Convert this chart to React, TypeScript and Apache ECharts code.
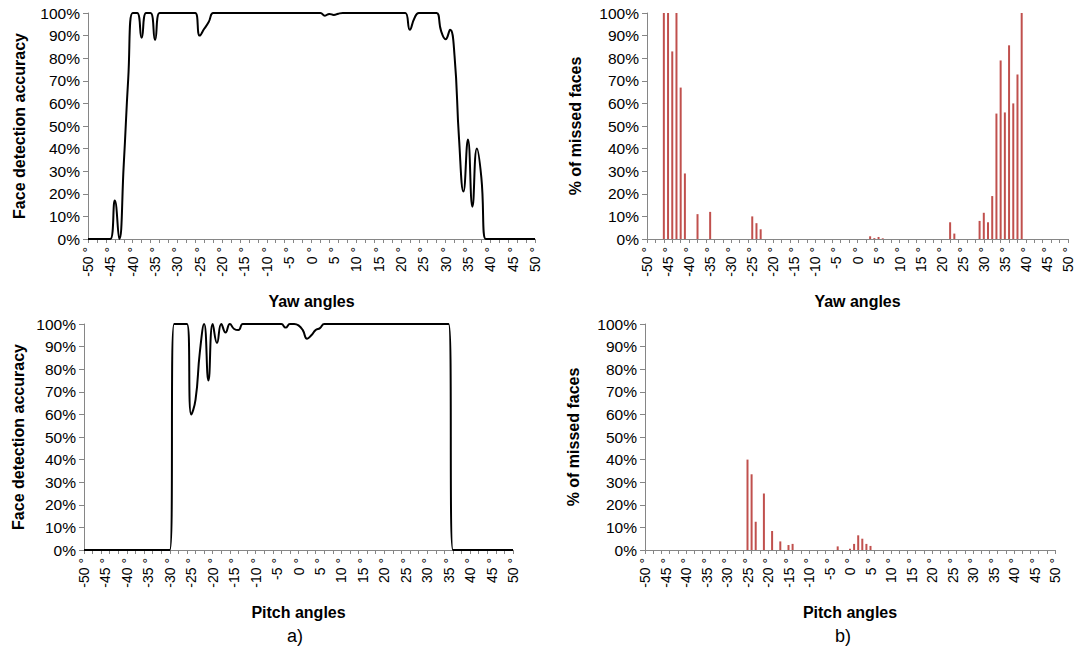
import React, { useEffect, useRef } from "react";
import * as echarts from "echarts";

// Category axis: angles in degrees
const angles = [
  -50, -49, -48, -47, -46, -45, -44, -43, -42, -41, -40, -39, -38, -37, -36, -35, -34, -33, -32, -31,
  -30, -29, -28, -27, -26, -25, -24, -23, -22, -21, -20, -19, -18, -17, -16, -15, -14, -13, -12, -11,
  -10, -9, -8, -7, -6, -5, -4, -3, -2, -1, 0, 1, 2, 3, 4, 5, 6, 7, 8, 9,
  10, 11, 12, 13, 14, 15, 16, 17, 18, 19, 20, 21, 22, 23, 24, 25, 26, 27, 28, 29,
  30, 31, 32, 33, 34, 35, 36, 37, 38, 39, 40, 41, 42, 43, 44, 45, 46, 47, 48, 49, 50,
];

// Face detection accuracy (%) per yaw angle, -50..50
const yawAccuracy = [
  0, 0, 0, 0, 0, 0, 17, 0, 33, 71, 100, 100, 89, 100, 100, 88,
  100, 100, 100, 100, 100, 100, 100, 100, 100,
  90, 93, 96,
  100, 100, 100, 100, 100, 100, 100, 100, 100, 100, 100, 100, 100, 100, 100, 100, 100, 100, 100, 100, 100, 100, 100, 100, 100,
  98.8, 99.6, 99.1, 99.7,
  100, 100, 100, 100, 100, 100, 100, 100, 100, 100, 100, 100, 100, 100, 100,
  92.6, 97.6,
  100, 100, 100, 100, 100,
  92, 88.4, 92.6, 81, 44.5, 21, 44, 14.3, 40, 27.2, 0,
  0, 0, 0, 0, 0, 0, 0, 0, 0, 0, 0,
];

// % of missed faces per yaw angle, -50..50
const yawMissed = [
  0, 0, 0, 0, 100, 100, 83, 100, 67, 29, 0, 0, 11, 0, 0, 12,
  0, 0, 0, 0, 0, 0, 0, 0, 0,
  10, 7, 4.3,
  0, 0, 0, 0, 0, 0, 0, 0, 0, 0, 0, 0, 0, 0, 0, 0, 0, 0, 0, 0, 0, 0, 0, 0, 0,
  1.2, 0.4, 0.9, 0.3,
  0, 0, 0, 0, 0, 0, 0, 0, 0, 0, 0, 0, 0, 0, 0,
  7.4, 2.4,
  0, 0, 0, 0, 0,
  8, 11.6, 7.4, 19, 55.5, 79, 56, 85.7, 60, 72.8, 100,
  0, 0, 0, 0, 0, 0, 0, 0, 0, 0, 0,
];

// Face detection accuracy (%) per pitch angle, -50..50
const pitchAccuracy = [
  0, 0, 0, 0, 0, 0, 0, 0, 0, 0, 0, 0, 0, 0, 0, 0, 0, 0, 0, 0, 0,
  100, 100, 100, 100,
  60, 66.5, 87.5, 100, 75, 100, 91.6, 100, 96.2, 100, 97.8, 97.3,
  100, 100, 100, 100, 100, 100, 100, 100, 100, 100,
  98.4,
  100, 100,
  99.4, 97.3, 93.5, 95, 97.3, 98.2,
  100, 100, 100, 100, 100, 100, 100, 100, 100, 100, 100, 100, 100, 100, 100,
  100, 100, 100, 100, 100, 100, 100, 100, 100, 100, 100, 100, 100, 100, 100,
  0, 0, 0, 0, 0, 0, 0, 0, 0, 0, 0, 0, 0, 0, 0,
];

// % of missed faces per pitch angle, -50..50
const pitchMissed = [
  0, 0, 0, 0, 0, 0, 0, 0, 0, 0, 0, 0, 0, 0, 0, 0, 0, 0, 0, 0, 0, 0, 0, 0, 0,
  40, 33.5, 12.5, 0, 25, 0, 8.4, 0, 3.8, 0, 2.2, 2.7,
  0, 0, 0, 0, 0, 0, 0, 0, 0, 0,
  1.6,
  0, 0,
  0.6, 2.7, 6.5, 5.0, 2.7, 1.8,
  0, 0, 0, 0, 0, 0, 0, 0, 0, 0, 0, 0, 0, 0, 0,
  0, 0, 0, 0, 0, 0, 0, 0, 0, 0, 0, 0, 0, 0, 0,
  0, 0, 0, 0, 0, 0, 0, 0, 0, 0, 0, 0, 0, 0, 0,
];

const FONT = "'Liberation Sans', Arial, sans-serif";
const AXIS_GRAY = "#868686";

function makeX(gridIndex: number, name: string, nameGap: number) {
  return {
    type: "category",
    gridIndex,
    data: angles.map(String),
    boundaryGap: false,
    axisLine: { show: true, lineStyle: { color: AXIS_GRAY, width: 1 } },
    axisTick: { show: true, interval: 1, length: 4, lineStyle: { color: AXIS_GRAY } },
    axisLabel: {
      interval: 4,
      rotate: 90,
      margin: 8,
      fontSize: 14,
      color: "#000",
      fontFamily: FONT,
      formatter: (v: string) => v + " °",
    },
    splitLine: { show: false },
    name,
    nameLocation: "middle",
    nameGap,
    nameTextStyle: { fontWeight: "bold", fontSize: 16, color: "#000", fontFamily: FONT },
  };
}

function makeY(gridIndex: number, name: string, nameGap: number) {
  return {
    type: "value",
    gridIndex,
    min: 0,
    max: 100,
    interval: 10,
    axisLine: { show: true, lineStyle: { color: AXIS_GRAY, width: 1 } },
    axisTick: { show: true, length: 5, lineStyle: { color: AXIS_GRAY } },
    axisLabel: { formatter: "{value}%", fontSize: 15.5, color: "#000", margin: 8, fontFamily: FONT },
    splitLine: { show: false },
    name,
    nameLocation: "middle",
    nameGap,
    nameRotate: 90,
    nameTextStyle: { fontWeight: "bold", fontSize: 16, color: "#000", fontFamily: FONT },
  };
}

export default function App() {
  const ref = useRef<HTMLDivElement>(null);
  useEffect(() => {
    if (!ref.current) return;
    const chart = echarts.init(ref.current, undefined, { renderer: "svg" });
    const option = {
      animation: false,
      backgroundColor: "#fff",
      textStyle: { fontFamily: FONT },
      grid: [
        { left: 88, top: 13, width: 447, height: 226 },
        { left: 647, top: 13, width: 421, height: 226 },
        { left: 84, top: 324, width: 429, height: 226 },
        { left: 645, top: 324, width: 410, height: 226 },
      ],
      xAxis: [
        makeX(0, "Yaw angles", 54),
        makeX(1, "Yaw angles", 54),
        makeX(2, "Pitch angles", 54),
        makeX(3, "Pitch angles", 54),
      ],
      yAxis: [
        makeY(0, "Face detection accuracy", 61),
        makeY(1, "% of missed faces", 64),
        makeY(2, "Face detection accuracy", 58),
        makeY(3, "% of missed faces", 64),
      ],
      series: [
        {
          type: "line",
          xAxisIndex: 0,
          yAxisIndex: 0,
          data: yawAccuracy,
          smooth: true,
          symbol: "none",
          lineStyle: { color: "#000", width: 2 },
        },
        {
          type: "bar",
          xAxisIndex: 1,
          yAxisIndex: 1,
          data: yawMissed,
          barWidth: 2,
          itemStyle: { color: "#C0504D" },
        },
        {
          type: "line",
          xAxisIndex: 2,
          yAxisIndex: 2,
          data: pitchAccuracy,
          smooth: true,
          symbol: "none",
          lineStyle: { color: "#000", width: 2 },
        },
        {
          type: "bar",
          xAxisIndex: 3,
          yAxisIndex: 3,
          data: pitchMissed,
          barWidth: 2,
          itemStyle: { color: "#C0504D" },
        },
      ],
      graphic: [
        {
          type: "text",
          x: 295,
          y: 636,
          style: { text: "a)", fontSize: 18, fill: "#000", fontFamily: FONT, textAlign: "center", textVerticalAlign: "middle" },
        },
        {
          type: "text",
          x: 843,
          y: 636,
          style: { text: "b)", fontSize: 18, fill: "#000", fontFamily: FONT, textAlign: "center", textVerticalAlign: "middle" },
        },
      ],
    };
    chart.setOption(option as any);
    return () => chart.dispose();
  }, []);
  return (
    <div
      ref={ref}
      style={{ position: "fixed", left: 0, top: 0, width: 1079, height: 650, background: "#fff" }}
    />
  );
}
